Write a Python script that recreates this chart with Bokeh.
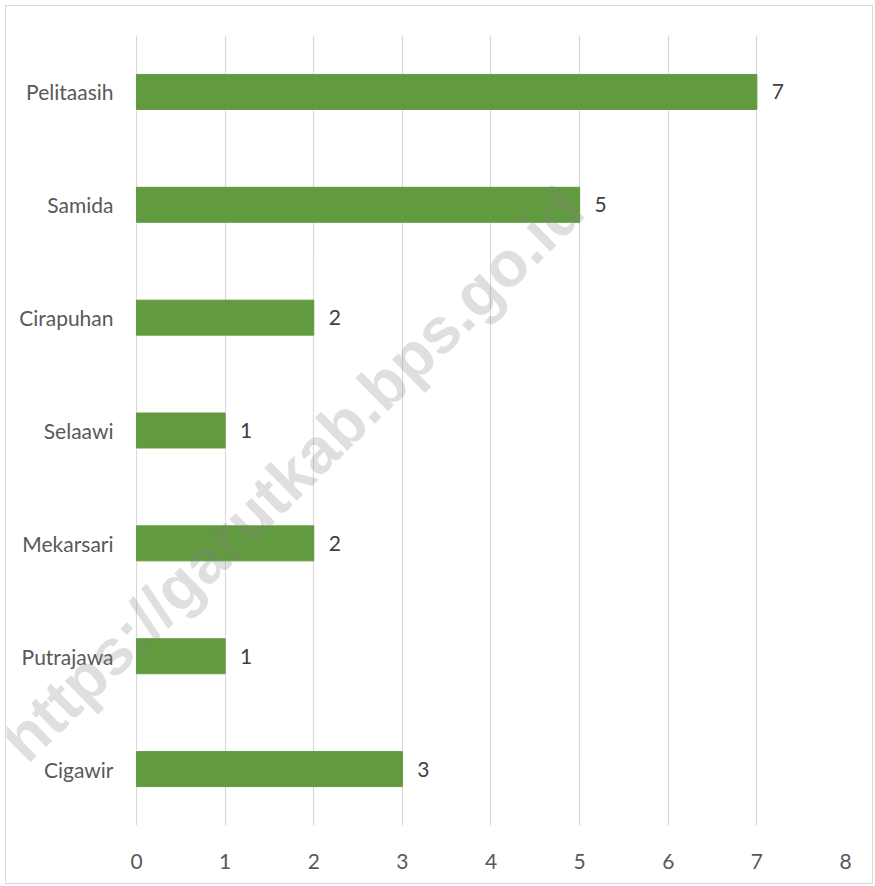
import math
from bokeh.plotting import figure
from bokeh.models import ColumnDataSource, Label, FixedTicker
from bokeh.core.properties import value
from bokeh.embed import file_html
from bokeh.resources import INLINE

categories = ["Pelitaasih", "Samida", "Cirapuhan", "Selaawi", "Mekarsari", "Putrajawa", "Cigawir"]
counts = [7, 5, 2, 1, 2, 1, 3]
x_ticks = [0, 1, 2, 3, 4, 5, 6, 7, 8]
watermark = "https://garutkab.bps.go.id"

n = len(categories)
ypos = [n - 1 - i for i in range(n)]  # top category first
src = ColumnDataSource(dict(y=ypos, v=counts, zero=[0] * n,
                            lab=[str(c) for c in counts], cat=categories))

FONT = "Lato"
TXT = "#595959"

p = figure(width=868, height=879, output_backend="svg", toolbar_location=None,
           x_range=(-1.4668, 8), y_range=(-0.5, n - 0.5), y_axis_location=None,
           min_border_left=0, min_border_right=29, min_border_top=29, min_border_bottom=60)
p.styles = {"margin-left": "5px", "margin-top": "5px", "border": "1px solid #d9d9d9"}

p.hbar(y="y", left=0, right="v", height=0.31, source=src, color="#629B3F")
p.text(x="v", y="y", text="lab", source=src, x_offset=15, text_align="left",
       text_baseline="middle", text_font=value(FONT), text_font_size="21px", text_color="#404040")
p.text(x="zero", y="y", text="cat", source=src, x_offset=-23, text_align="right",
       text_baseline="middle", text_font=value(FONT), text_font_size="21px", text_color=TXT)

p.outline_line_color = None
p.ygrid.grid_line_color = None
p.xgrid.grid_line_color = "#d9d9d9"
p.xgrid.grid_line_width = 1.2
p.xaxis.ticker = FixedTicker(ticks=x_ticks)
p.xaxis.axis_line_color = None
p.xaxis.major_tick_line_color = None
p.xaxis.minor_tick_line_color = None
p.xaxis.major_label_text_font = FONT
p.xaxis.major_label_text_font_size = "21px"
p.xaxis.major_label_text_color = TXT
p.xaxis.major_label_standoff = 22

wm = Label(x=1.755, y=2.61, text=watermark, angle=math.radians(44.5),
           text_align="center", text_baseline="middle",
           text_font="Liberation Sans", text_font_style="bold", text_font_size="64px",
           text_color="#808080", text_alpha=0.25)
p.add_layout(wm)

open("out.html", "w").write(file_html(p, INLINE))
